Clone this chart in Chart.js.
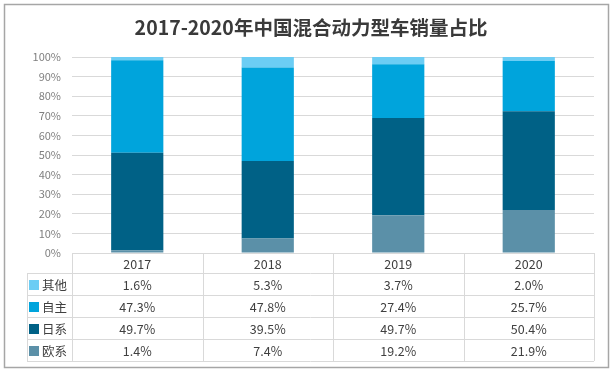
<!DOCTYPE html>
<html>
<head>
<meta charset="utf-8">
<script src="https://cdn.jsdelivr.net/npm/chart.js@4"></script>
<style>
  html, body { margin: 0; padding: 0; background: #fff; }
  canvas { display: block; }
</style>
</head>
<body>
<canvas id="chart" width="613" height="372"></canvas>
<script>
// categories and series (percent of sales)
const years = ['2017', '2018', '2019', '2020'];
const euro = [1.4, 7.4, 19.2, 21.9];     // 欧系
const japan = [49.7, 39.5, 49.7, 50.4];  // 日系
const domestic = [47.3, 47.8, 27.4, 25.7]; // 自主
const other = [1.6, 5.3, 3.7, 2.0];      // 其他
const yTicks = [0, 10, 20, 30, 40, 50, 60, 70, 80, 90, 100];

const FONT = '"Noto Sans CJK SC", "Microsoft YaHei", sans-serif';

const datasets = [
  { label: '欧系', data: euro, backgroundColor: '#5b90a8' },
  { label: '日系', data: japan, backgroundColor: '#006186' },
  { label: '自主', data: domestic, backgroundColor: '#00a4dc' },
  { label: '其他', data: other, backgroundColor: '#6ccdf4' },
];

// draws the title, outer frame and the data table under the plot
const tablePlugin = {
  id: 'dataTable',
  afterDraw(chart) {
    const ctx = chart.ctx;
    const area = chart.chartArea;
    const x = chart.scales.x;
    const colW = (area.right - area.left) / years.length;
    const headerH = 20;
    const rowH = 22;
    const legendLeft = 27;
    const rows = datasets.slice().reverse();
    const top = area.bottom;
    const bottom = top + headerH + rowH * rows.length;

    ctx.save();
    // frame
    ctx.strokeStyle = '#a6a6a6';
    ctx.lineWidth = 1.5;
    ctx.strokeRect(4.5, 4.5, 604, 363);

    // title
    ctx.fillStyle = '#3a3a3a';
    ctx.font = 'bold 19.5px ' + FONT;
    ctx.textAlign = 'center';
    ctx.textBaseline = 'middle';
    ctx.fillText('2017-2020年中国混合动力型车销量占比', 311, 28);

    // table grid
    ctx.strokeStyle = '#d9d9d9';
    ctx.lineWidth = 1;
    ctx.beginPath();
    for (let i = 0; i <= years.length; i++) {
      const lx = Math.round(area.left + colW * i) + 0.5;
      ctx.moveTo(lx, top);
      ctx.lineTo(lx, bottom);
    }
    for (let r = 0; r <= rows.length; r++) {
      const ly = Math.round(top + headerH + rowH * r) + 0.5;
      ctx.moveTo(legendLeft, ly);
      ctx.lineTo(area.right, ly);
    }
    ctx.moveTo(legendLeft + 0.5, top + headerH);
    ctx.lineTo(legendLeft + 0.5, bottom);
    ctx.stroke();

    // header
    ctx.fillStyle = '#404040';
    ctx.font = '12.5px ' + FONT;
    years.forEach((y, i) => {
      ctx.fillText(y, x.getPixelForValue(i), top + headerH / 2 + 1);
    });

    // rows
    rows.forEach((ds, r) => {
      const cy = top + headerH + rowH * r + rowH / 2 + 1;
      ctx.fillStyle = ds.backgroundColor;
      ctx.fillRect(legendLeft + 2, cy - 5, 10, 10);
      ctx.fillStyle = '#404040';
      ctx.textAlign = 'left';
      ctx.font = '12.5px ' + FONT;
      ctx.fillText(ds.label, legendLeft + 15, cy);
      ctx.textAlign = 'center';
      ds.data.forEach((v, i) => {
        ctx.fillText(v.toFixed(1) + '%', x.getPixelForValue(i), cy);
      });
    });
    ctx.restore();
  }
};

new Chart(document.getElementById('chart'), {
  type: 'bar',
  data: { labels: years, datasets },
  plugins: [tablePlugin],
  options: {
    responsive: false,
    animation: false,
    events: [],
    layout: { padding: { top: 57, right: 19, bottom: 119, left: 0 } },
    plugins: {
      legend: { display: false },
      title: { display: false },
      tooltip: { enabled: false },
    },
    datasets: { bar: { categoryPercentage: 1, barPercentage: 0.4 } },
    scales: {
      x: { stacked: true, display: false },
      y: {
        stacked: true,
        min: 0,
        max: 100,
        afterBuildTicks: (scale) => { scale.ticks = yTicks.map(v => ({ value: v })); },
        afterFit: (scale) => { scale.width = 72; },
        border: { display: false },
        grid: { color: '#d9d9d9', drawTicks: false },
        ticks: {
          padding: 11,
          color: '#7f7f7f',
          font: { family: FONT, size: 11 },
          callback: (v) => v + '%'
        }
      }
    }
  }
});
</script>
</body>
</html>
